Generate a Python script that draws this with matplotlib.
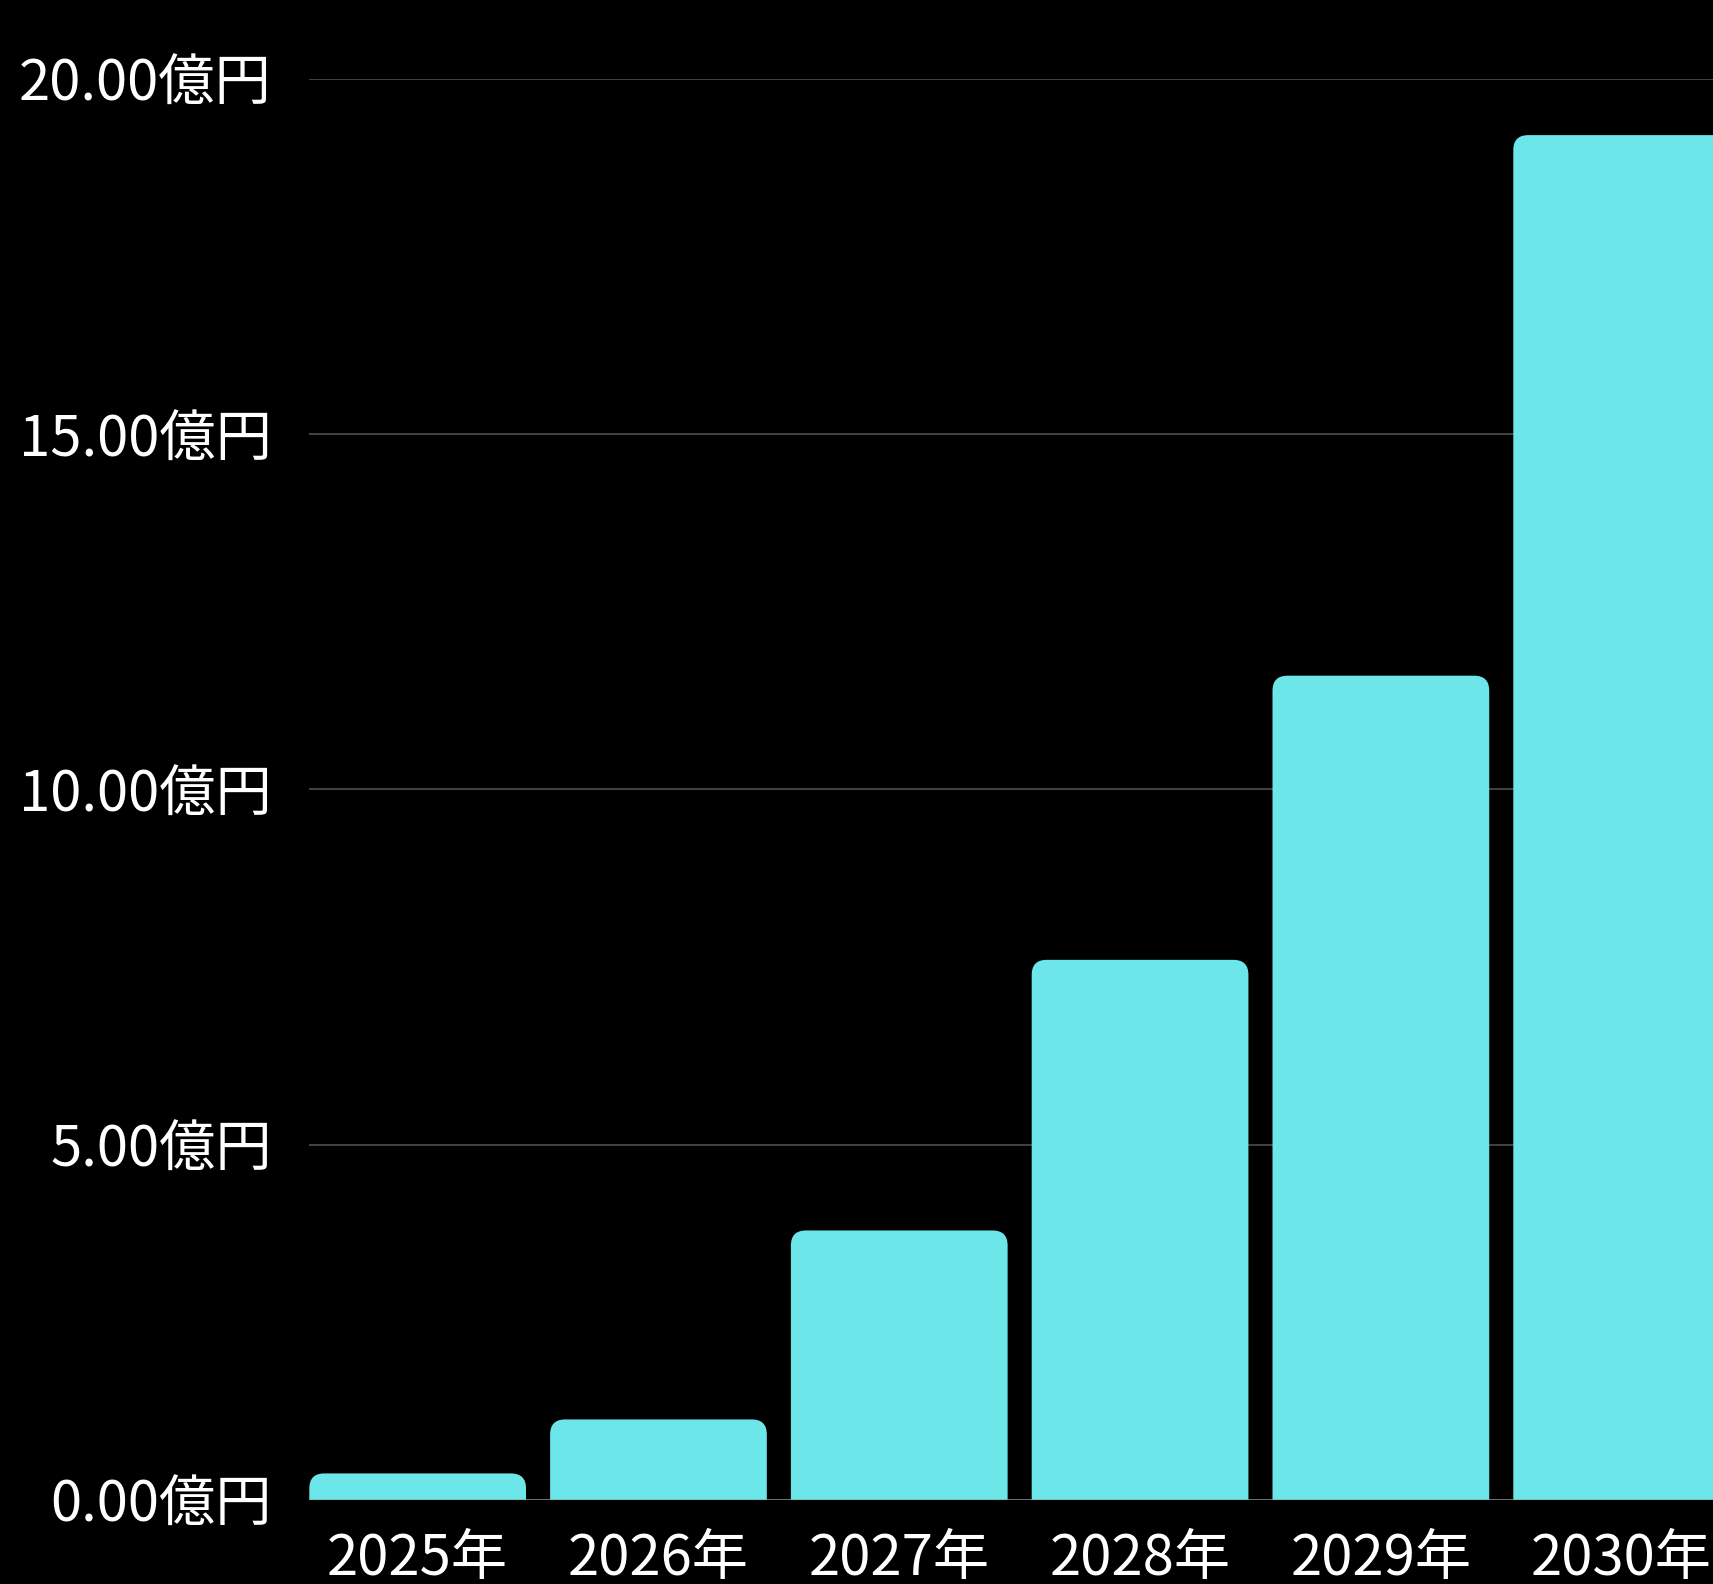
import matplotlib
matplotlib.use("Agg")
import matplotlib.pyplot as plt
from matplotlib.path import Path
from matplotlib.patches import PathPatch

plt.rcParams['font.family'] = ['Noto Sans CJK JP', 'DejaVu Sans']

# ---- data ----
years = ["2025年", "2026年", "2027年", "2028年", "2029年", "2030年"]
values = [0.37, 1.13, 3.79, 7.60, 11.60, 19.21]
yticks = [0, 5, 10, 15, 20]
ytick_labels = [f"{v:.2f}億円" for v in yticks]

BAR_COLOR = "#6ce6e8"
GRID_COLOR = "#474747"
BASE_COLOR = "#7a7a7a"

W, H = 1713, 1584
fig = plt.figure(figsize=(W / 100, H / 100), dpi=100, facecolor="black")
left_px, right_px = 309.3, 1713
bottom_px, top_px = 1499.7, 79.0
ax = fig.add_axes([left_px / W, (H - bottom_px) / H,
                   (right_px - left_px) / W, (bottom_px - top_px) / H])
ax.set_facecolor("black")

x = list(range(len(years)))
bar_w = 0.9
ax.set_xlim(-0.45, -0.45 + (right_px - left_px) / 240.8)
ax.set_ylim(0, 20)

bars = ax.bar(x, values, width=bar_w, color=BAR_COLOR, zorder=3)

# rounded top corners (radius ~15 px)
fig.canvas.draw()
p0 = ax.transData.transform((0, 0))
p1 = ax.transData.transform((1, 1))
rx = 15 / (p1[0] - p0[0])
ry = 15 / (p1[1] - p0[1])
for rect in bars:
    x0 = rect.get_x()
    x1 = x0 + rect.get_width()
    y0 = rect.get_y()
    y1 = y0 + rect.get_height()
    r_y = min(ry, rect.get_height())
    verts = [(x0, y0), (x0, y1 - r_y), (x0, y1), (x0 + rx, y1),
             (x1 - rx, y1), (x1, y1), (x1, y1 - r_y), (x1, y0), (x0, y0)]
    codes = [Path.MOVETO, Path.LINETO, Path.CURVE3, Path.CURVE3,
             Path.LINETO, Path.CURVE3, Path.CURVE3, Path.LINETO, Path.CLOSEPOLY]
    ax.add_patch(PathPatch(Path(verts, codes), facecolor=BAR_COLOR,
                           edgecolor="none", zorder=3))
    rect.set_visible(False)

ax.set_yticks(yticks)
ax.set_yticklabels(ytick_labels)
ax.set_xticks(x)
ax.set_xticklabels(years)

for t in yticks[1:]:
    ax.axhline(t, color=GRID_COLOR, linewidth=1.3, zorder=1)
ax.axhline(0, color=BASE_COLOR, linewidth=1.3, zorder=2)

for s in ax.spines.values():
    s.set_visible(False)
ax.tick_params(axis="y", length=0, pad=27, labelsize=40.5, labelcolor="white")
ax.tick_params(axis="x", length=0, pad=22, labelsize=40.5, labelcolor="white")

fig.savefig("out.png", dpi=100, facecolor="black")
